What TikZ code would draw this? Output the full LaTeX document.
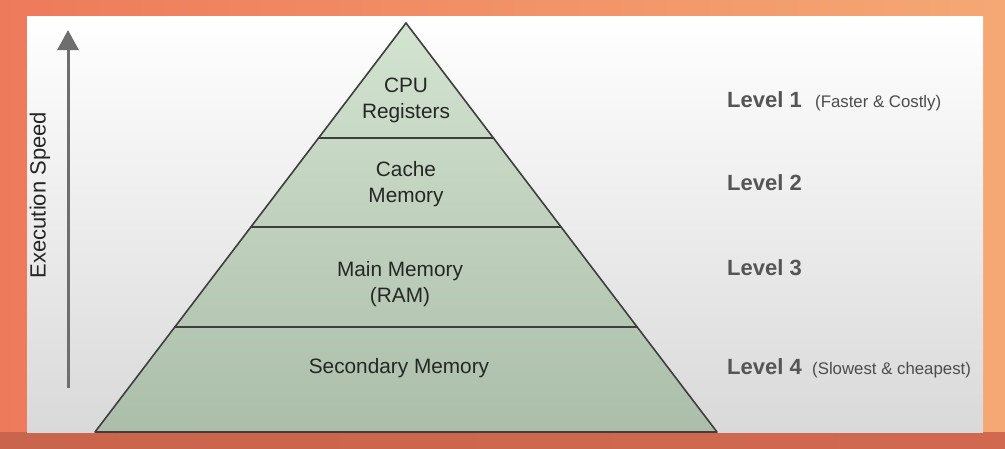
\documentclass[tikz,border=0pt]{standalone}
\usepackage{fontspec}
\setmainfont{Liberation Sans}
\usetikzlibrary{calc,arrows.meta}
\definecolor{bgL}{HTML}{EE7A5B}
\definecolor{bgR}{HTML}{F5A874}
\definecolor{bgB}{HTML}{C9654C}
\definecolor{panelB}{HTML}{D9D9D9}
\definecolor{tierT}{HTML}{D3E4D1}
\definecolor{tierB}{HTML}{ABBEA9}
\definecolor{edge}{HTML}{3E3E3E}
\definecolor{arrowgray}{HTML}{6E6E6E}
\definecolor{lvlgray}{HTML}{555555}
\tikzset{
	tier/.style={align=center,text=black!85,font=\fontsize{20.8}{26}\selectfont,inner sep=0pt},
	lvl/.style={anchor=west,text=lvlgray,font=\bfseries\fontsize{22}{26}\selectfont,inner sep=0pt},
	note/.style={anchor=base west,text=black!70,font=\fontsize{16.8}{20}\selectfont,inner sep=0pt}
}
\begin{document}
\begin{tikzpicture}[x=1pt,y=-1pt,line join=round,line cap=round,>={Triangle[width=21pt,length=20pt]}]
	\useasboundingbox (0,0) rectangle (1005,448);
	% background and slide
	\shade[left color=bgL,right color=bgR] (0,0) rectangle (1005,448);
	\shade[left color=bgB,right color=bgB!80!bgL] (0,432) rectangle (1005,448);
	\shade[top color=white,middle color=white,bottom color=panelB] (27,16) rectangle (983,432);
	\path (406,23) coordinate (T)
		(95,432) coordinate (L)
		(717,432) coordinate (R)
		(68,388) coordinate (S0)
		(68,30) coordinate (S1)
		;
	\foreach \p/\f in {a/0.2812,b/0.4988,c/0.7433}{
		\path ($(T)!\f!(L)$) coordinate (\p L) ($(T)!\f!(R)$) coordinate (\p R);
	}
	% pyramid
	\shade[top color=tierT,bottom color=tierB] (T)--(L)--(R)--cycle;
	\draw[edge,line width=1.6pt] (T)--(L)--(R)--cycle;
	\draw[edge,line width=1.6pt] (aL)--(aR) (bL)--(bR) (cL)--(cR);
	\foreach \n/\x/\y/\t in {cpu/406/100/{CPU\\Registers},cache/406/184/{Cache\\Memory},ram/400/284/{Main Memory\\(RAM)},disk/399/368/{Secondary Memory}}{
		\node[tier] (\n) at (\x,\y) {\t};
	}
	% speed arrow
	\draw[->,arrowgray,line width=3pt,line cap=butt] (S0)--(S1);
	\node[rotate=90,font=\fontsize{22}{26}\selectfont,text=black!85,inner sep=0pt] (speed) at (40,195) {Execution Speed};
	% levels
	\foreach \n/\y in {1/100,2/183,3/268,4/367}{
		\node[lvl] (l\n) at (727,\y) {Level \n};
	}
	\node[note] (n1) at ($(l1.base east)+(13,0)$) {(Faster \& Costly)};
	\node[note] (n4) at ($(l4.base east)+(10,0)$) {(Slowest \& cheapest)};
\end{tikzpicture}
\end{document}
